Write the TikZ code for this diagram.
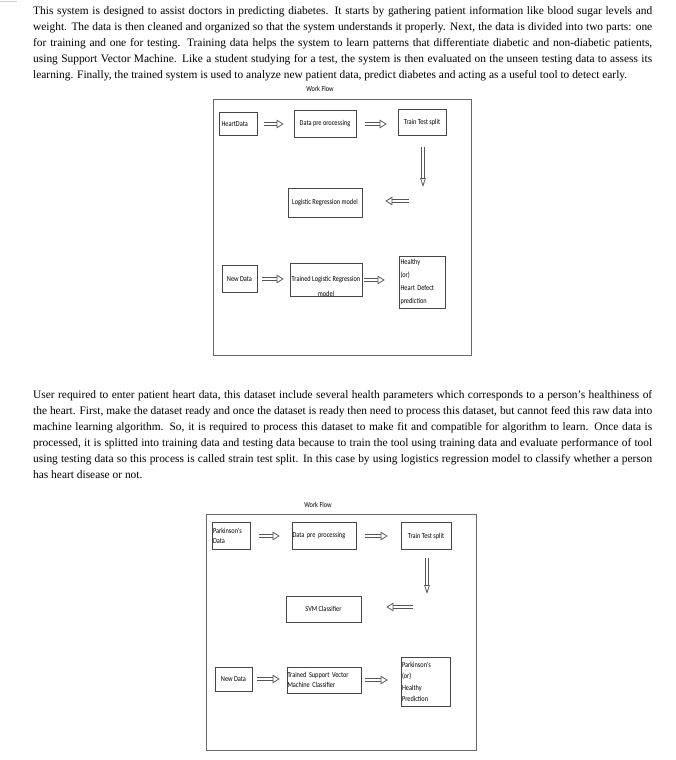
\documentclass[tikz,border=0pt]{standalone}
\usepackage{fontspec}
\setmainfont{Liberation Serif}
\newfontfamily\wffont{Carlito}[FakeStretch=0.83]
\usetikzlibrary{arrows.meta}
\definecolor{boxline}{RGB}{70,70,70}
\definecolor{frameline}{RGB}{105,105,105}
\definecolor{arrowline}{RGB}{85,85,85}
\tikzset{
  para/.style={anchor=north west,inner sep=0pt,text width=619pt,align=justify,
    font=\fontsize{11.4}{16}\selectfont},
  wf/.style={font=\wffont\fontsize{7.6}{9}\selectfont},
  stepbox/.style={draw=boxline,line width=0.6pt,wf,inner sep=1.5pt},
  lbox/.style={stepbox,align=left},
  frame/.style={draw=frameline,line width=0.9pt},
  hollow/.style={draw=arrowline,double=white,double distance=2pt,line width=0.75pt,
    -{Triangle[open,length=7pt,width=8.5pt]}},
  drop/.style={hollow,double distance=1.6pt,-{Triangle[open,length=9pt,width=5.5pt]}}
}
\newcommand{\wfsize}[1]{\wffont\fontsize{7.6}{#1}\selectfont}

\begin{document}
\begin{tikzpicture}[x=1pt,y=-1pt]
  \useasboundingbox (0,0) rectangle (676,760);
  \draw[gray!35] (0,1) -- (17,1);

  % ================= text above the first flow =================
  \node[para] (intro) at (33,6) {This system is designed to assist doctors in predicting diabetes. It starts by gathering patient information like blood sugar levels and\linebreak
  weight. The data is then cleaned and organized so that the system understands it properly. Next, the data is divided into two parts: one\linebreak
  for training and one for testing. Training data helps the system to learn patterns that differentiate diabetic and non-diabetic patients,\linebreak
  using Support Vector Machine. Like a student studying for a test, the system is then evaluated on the unseen testing data to assess its\linebreak
  learning. Finally, the trained system is used to analyze new patient data, predict diabetes and acting as a useful tool to detect early.};

  % ================= heart flow =================
  \draw[frame] (213,99) rectangle (471,355);
  \node[wf] (wf1) at (320,89) {Work Flow};
  \node[lbox,text width=33pt,inner xsep=2.5pt,minimum height=23pt] (heart1) at (238,124) {HeartData};
  \node[stepbox,minimum width=62pt,minimum height=27pt] (prep1) at (325,124) {Data pre orocessing};
  \node[stepbox,minimum width=48pt,minimum height=26pt] (split1) at (422,122) {Train Test split};
  \node[stepbox,minimum width=74pt,minimum height=29pt] (lr1) at (325,203) {Logistic Regression model};
  \node[stepbox,minimum width=35pt,minimum height=27pt] (new1) at (239.5,279) {New Data};
  \node[stepbox,inner xsep=1pt,minimum width=72pt,minimum height=27pt,font=\wfsize{15}] (tlr1) at (326,280)
    {\raisebox{-6pt}[\height][\depth]{\begin{tabular}{@{}c@{}}Trained Logistic Regression\\model\end{tabular}}};
  \node[lbox,text width=43pt,minimum height=52pt,font=\wfsize{12.7}] (out1) at (422,282)
    {Healthy\\(or)\\Heart Defect\\prediction};
  \coordinate (drop1) at (423,187);
  \coordinate (back1) at (409,201);

  \draw[hollow,shorten <=7pt,shorten >=10pt] (heart1) -- (prep1);
  \draw[hollow,shorten <=9pt,shorten >=11pt] (prep1.east) -- (prep1.east -| split1.west);
  \draw[drop,shorten <=12pt] (split1.south -| drop1) -- (drop1);
  \draw[hollow,shorten >=23pt] (back1) -- (back1 -| lr1.east);
  \draw[hollow,shorten <=5pt,shorten >=6pt] (new1) -- (new1 -| tlr1.west);
  \draw[hollow,shorten <=2pt,shorten >=14pt] (tlr1.east) -- (tlr1.east -| out1.west);

  % ================= text between the flows =================
  \node[para] (explain) at (33,390) {User required to enter patient heart data, this dataset include several health parameters which corresponds to a person's healthiness of\linebreak
  the heart. First, make the dataset ready and once the dataset is ready then need to process this dataset, but cannot feed this raw data into\linebreak
  machine learning algorithm. So, it is required to process this dataset to make fit and compatible for algorithm to learn. Once data is\linebreak
  processed, it is splitted into training data and testing data because to train the tool using training data and evaluate performance of tool\linebreak
  using testing data so this process is called strain test split. In this case by using logistics regression model to classify whether a person\linebreak
  has heart disease or not.};

  % ================= parkinson flow =================
  \draw[frame] (206,514) rectangle (476,750);
  \node[wf] (wf2) at (318,505) {Work Flow};
  \node[lbox,text width=36pt,inner xsep=1pt,minimum height=27pt,font=\wfsize{10}] (park2) at (231,536)
    {Parkinson's\\Data};
  \node[lbox,text width=63pt,inner xsep=0.5pt,minimum height=27pt] (prep2) at (324,536) {Data pre processing};
  \node[stepbox,minimum width=50pt,minimum height=27pt] (split2) at (426,536) {Train Test split};
  \node[stepbox,minimum width=75pt,minimum height=26pt] (svm2) at (323.5,609) {SVM Classifier};
  \node[stepbox,minimum width=37pt,minimum height=24pt] (new2) at (233.5,679) {New Data};
  \node[lbox,text width=73pt,inner xsep=0.5pt,minimum height=26pt,font=\wfsize{10}] (tsvm2) at (324,680)
    {Trained Support Vector\\Machine Classifier};
  \node[lbox,text width=47pt,inner xsep=1pt,minimum height=49pt,font=\wfsize{11.3}] (out2) at (425.5,682)
    {Parkinson's\\(or)\\Healthy\\Prediction};
  \coordinate (drop2) at (427,594);
  \coordinate (back2) at (413,607);

  \draw[hollow,shorten <=9pt,shorten >=12pt] (park2) -- (prep2);
  \draw[hollow,shorten <=9pt,shorten >=13pt] (prep2) -- (split2);
  \draw[drop,shorten <=8pt] (split2.south -| drop2) -- (drop2);
  \draw[hollow,shorten >=25pt] (back2) -- (back2 -| svm2.east);
  \draw[hollow,shorten <=5pt,shorten >=7pt] (new2) -- (new2 -| tsvm2.west);
  \draw[hollow,shorten <=4pt,shorten >=13pt] (tsvm2.east) -- (tsvm2.east -| out2.west);
\end{tikzpicture}
\end{document}
